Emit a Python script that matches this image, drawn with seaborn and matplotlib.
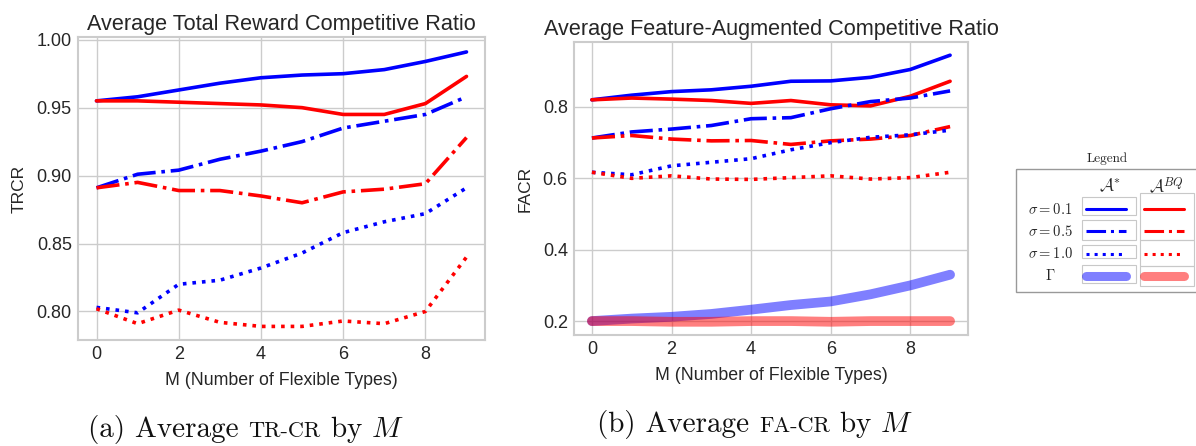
import numpy as np
import pandas as pd
import matplotlib
matplotlib.use("Agg")
import matplotlib.pyplot as plt
import seaborn as sns
from matplotlib.patches import Rectangle

# x values: number of flexible types
M = list(range(10))

# Average Total Reward Competitive Ratio (left panel)
trcr_astar_s01 = [0.955, 0.958, 0.963, 0.968, 0.972, 0.974, 0.975, 0.978, 0.984, 0.991]
trcr_abq_s01 = [0.955, 0.955, 0.954, 0.953, 0.952, 0.950, 0.945, 0.945, 0.953, 0.973]
trcr_astar_s05 = [0.891, 0.901, 0.904, 0.912, 0.918, 0.925, 0.935, 0.940, 0.945, 0.958]
trcr_abq_s05 = [0.891, 0.895, 0.889, 0.889, 0.885, 0.880, 0.888, 0.890, 0.894, 0.928]
trcr_astar_s10 = [0.803, 0.799, 0.820, 0.823, 0.832, 0.843, 0.858, 0.866, 0.872, 0.891]
trcr_abq_s10 = [0.802, 0.791, 0.801, 0.792, 0.789, 0.789, 0.793, 0.791, 0.800, 0.840]

# Average Feature-Augmented Competitive Ratio (right panel)
facr_astar_s01 = [0.820, 0.833, 0.843, 0.848, 0.858, 0.872, 0.873, 0.883, 0.905, 0.945]
facr_abq_s01 = [0.820, 0.825, 0.822, 0.818, 0.810, 0.818, 0.806, 0.803, 0.830, 0.872]
facr_astar_s05 = [0.713, 0.730, 0.738, 0.748, 0.767, 0.770, 0.795, 0.815, 0.825, 0.845]
facr_abq_s05 = [0.713, 0.720, 0.710, 0.705, 0.706, 0.695, 0.705, 0.710, 0.720, 0.745]
facr_astar_s10 = [0.617, 0.610, 0.635, 0.645, 0.655, 0.680, 0.700, 0.715, 0.722, 0.735]
facr_abq_s10 = [0.617, 0.600, 0.607, 0.598, 0.597, 0.602, 0.607, 0.598, 0.602, 0.617]
gamma_astar = [0.200, 0.207, 0.212, 0.220, 0.232, 0.245, 0.255, 0.275, 0.300, 0.330]
gamma_abq = [0.200, 0.200, 0.198, 0.198, 0.200, 0.200, 0.198, 0.200, 0.200, 0.200]

sns.set_theme(style="whitegrid")
plt.rcParams['font.family'] = ['Liberation Sans', 'DejaVu Sans']
plt.rcParams['mathtext.fontset'] = 'cm'
plt.rcParams['axes.edgecolor'] = '#cccccc'
plt.rcParams['axes.linewidth'] = 1.5

fig = plt.figure(figsize=(11.96, 4.46), dpi=100)
W, H = 1196, 446


def px_axes(x0, y0, x1, y1):
    return fig.add_axes([x0 / W, 1 - y1 / H, (x1 - x0) / W, (y1 - y0) / H])


ax1 = px_axes(78, 37, 485, 340)
ax2 = px_axes(574, 42, 968, 335)

lw = 2.6
left_series = [
    (trcr_astar_s01, 'blue', '-'), (trcr_abq_s01, 'red', '-'),
    (trcr_astar_s05, 'blue', '-.'), (trcr_abq_s05, 'red', '-.'),
    (trcr_astar_s10, 'blue', ':'), (trcr_abq_s10, 'red', ':'),
]
for vals, col, ls in left_series:
    sns.lineplot(x=M, y=vals, ax=ax1, color=col, linestyle=ls, linewidth=lw)

right_series = [
    (facr_astar_s01, 'blue', '-'), (facr_abq_s01, 'red', '-'),
    (facr_astar_s05, 'blue', '-.'), (facr_abq_s05, 'red', '-.'),
    (facr_astar_s10, 'blue', ':'), (facr_abq_s10, 'red', ':'),
]
for vals, col, ls in right_series:
    sns.lineplot(x=M, y=vals, ax=ax2, color=col, linestyle=ls, linewidth=lw)
sns.lineplot(x=M, y=gamma_astar, ax=ax2, color='blue', alpha=0.5, linewidth=7,
             solid_capstyle='round')
sns.lineplot(x=M, y=gamma_abq, ax=ax2, color='red', alpha=0.5, linewidth=7,
             solid_capstyle='round')

ax1.set_ylim(0.779, 1.002)
ax1.set_yticks([0.80, 0.85, 0.90, 0.95, 1.00])
ax2.set_ylim(0.161, 0.982)
ax2.set_yticks([0.2, 0.4, 0.6, 0.8])

for ax, title, ylab in [(ax1, 'Average Total Reward Competitive Ratio', 'TRCR'),
                        (ax2, 'Average Feature-Augmented Competitive Ratio', 'FACR')]:
    ax.set_xticks([0, 2, 4, 6, 8])
    ax.set_title(title, fontsize=15.6, color='#262626', pad=5)
    ax.set_xlabel('M (Number of Flexible Types)', fontsize=12.8, color='#262626',
                  labelpad=6)
    ax.set_ylabel(ylab, fontsize=12.5, color='#262626', labelpad=7)
    ax.tick_params(labelsize=13, colors='#262626', length=0, pad=4.5)

# captions below each panel: normal text, small caps, then the rest
cap_size = 21
ink = '#111111'
fig.canvas.draw()
renderer = fig.canvas.get_renderer()
for x0, ybase, pre, sc in [(88, 437, '(a) Average ', 'TR-CR'),
                           (597, 432, '(b) Average ', 'FA-CR')]:
    yf = 1 - ybase / H
    t1 = fig.text(x0 / W, yf, pre, family='cmr10', fontsize=cap_size,
                  va='baseline', ha='left', color=ink)
    x1 = t1.get_window_extent(renderer).x1
    t2 = fig.text(x1 / W, yf, sc, family='cmr10', fontsize=cap_size * 0.76,
                  va='baseline', ha='left', color=ink)
    x2 = t2.get_window_extent(renderer).x1
    fig.text(x2 / W, yf, ' by $M$', family='cmr10', fontsize=cap_size,
             va='baseline', ha='left', color=ink)

# legend table on the right
lax = px_axes(1016, 150, 1198, 294)
lax.set_xlim(1016, 1198)
lax.set_ylim(294, 150)
lax.axis('off')
lax.add_patch(Rectangle((1016, 169), 182, 123, fill=False, edgecolor='#999999',
                        lw=1.0, clip_on=False))
lax.text(1107, 159, 'Legend', family='cmr10', fontsize=9.5, ha='center', va='center')
lax.text(1110, 186, r'$\mathcal{A}^{*}$', fontsize=12.5, ha='center', va='center')
lax.text(1166, 186, r'$\mathcal{A}^{BQ}$', fontsize=12.5, ha='center', va='center')

row_labels = [r'$\sigma = 0.1$', r'$\sigma = 0.5$', r'$\sigma = 1.0$', r'$\Gamma$']
row_y = [209, 231, 254, 276]
for lab, yy in zip(row_labels, row_y):
    lax.text(1050, yy, lab, fontsize=10.5, ha='center', va='center')

left_cells = [(197, 215), (220, 240), (245, 258), (265, 283)]
right_cells = [(193, 240), (240, 266), (266, 286)]
for y0, y1 in left_cells:
    lax.add_patch(Rectangle((1082, y0), 54, y1 - y0, fill=False,
                            edgecolor='#c8c8c8', lw=0.8))
for y0, y1 in right_cells:
    lax.add_patch(Rectangle((1140, y0), 54, y1 - y0, fill=False,
                            edgecolor='#c8c8c8', lw=0.8))

for cx, col in [(1086, 'blue'), (1144, 'red')]:
    for yy, ls in zip(row_y[:3], ['-', '-.', ':']):
        lax.plot([cx, cx + 40], [yy, yy], color=col, linestyle=ls, linewidth=2.2)
    lax.plot([cx, cx + 40], [row_y[3], row_y[3]], color=col, alpha=0.5,
             linewidth=6.5, solid_capstyle='round')

fig.savefig('out.png', dpi=100)
